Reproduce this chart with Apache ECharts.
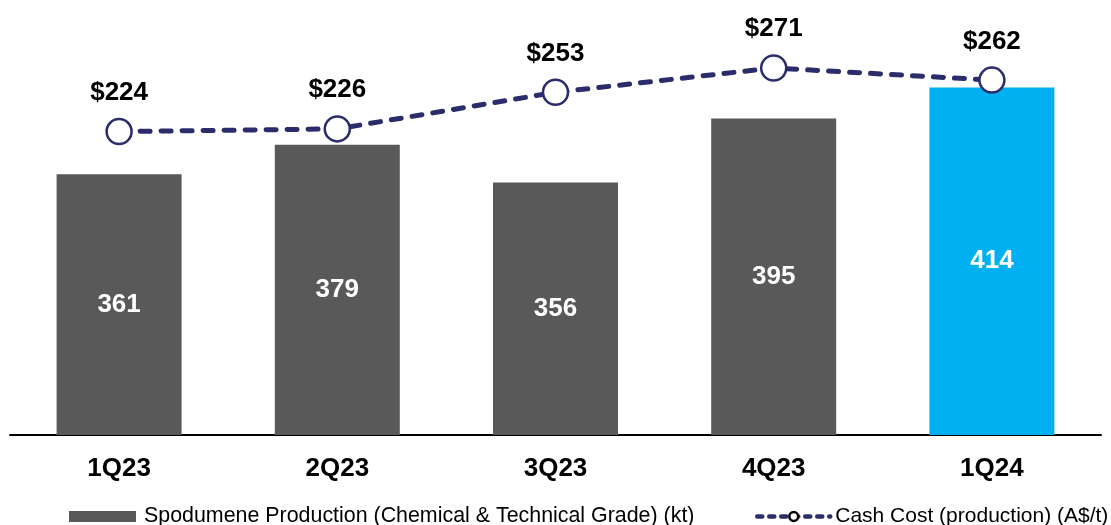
<!DOCTYPE html>
<html>
<head>
<meta charset="utf-8">
<script src="https://cdn.jsdelivr.net/npm/echarts@6/dist/echarts.min.js"></script>
<style>
html,body{margin:0;padding:0;background:#fff;}
#chart{width:1111px;height:525px;}
</style>
</head>
<body>
<div id="chart"></div>
<script>
const categories = ['1Q23', '2Q23', '3Q23', '4Q23', '1Q24'];
const production = [361, 379, 356, 395, 414];
const cashCost = [224, 226, 253, 271, 262];
const productionName = 'Spodumene Production (Chemical & Technical Grade) (kt)';
const cashCostName = 'Cash Cost (production) (A$/t)';
const highlightCategory = '1Q24';

const FONT = '"Liberation Sans", Arial, sans-serif';
const NAVY = '#2B2D6B';
const chart = echarts.init(document.getElementById('chart'));

const barData = production.map((v, i) => ({
  value: v,
  itemStyle: { color: categories[i] === highlightCategory ? '#00B0F0' : '#595959' }
}));

chart.setOption({
  animation: false,
  textStyle: { fontFamily: FONT },
  grid: { left: 10, right: 10, top: 30, bottom: 90, containLabel: false },
  legend: [
    {
      data: [{ name: productionName, icon: 'rect', itemStyle: { color: '#595959' } }],
      left: 69, top: 506, padding: 0,
      itemWidth: 67, itemHeight: 11,
      textStyle: { fontFamily: FONT, fontSize: 21.4, color: '#000', padding: [0, 0, 0, 3] }
    },
    {
      data: [cashCostName],
      left: 755, top: 506, padding: 0,
      itemWidth: 73, itemHeight: 11,
      lineStyle: { width: 4.5, type: [5, 7], cap: 'round', color: NAVY },
      itemStyle: { borderWidth: 2.5, borderColor: '#000', color: '#fff' },
      textStyle: { fontFamily: FONT, fontSize: 21, color: '#000' }
    }
  ],
  xAxis: {
    type: 'category',
    data: categories,
    axisLine: { lineStyle: { color: '#000', width: 2 } },
    axisTick: { show: false },
    axisLabel: { fontFamily: FONT, fontSize: 26, fontWeight: 'bold', color: '#000', margin: 21 }
  },
  yAxis: [
    { type: 'value', min: 202, max: 449, show: false, splitLine: { show: false } },
    { type: 'value', min: 0, max: 299, show: false, splitLine: { show: false } }
  ],
  series: [
    {
      name: productionName,
      type: 'bar',
      yAxisIndex: 0,
      barWidth: 125,
      data: barData,
      label: {
        show: true, position: 'inside',
        fontFamily: FONT, fontSize: 26, fontWeight: 'bold', color: '#fff'
      }
    },
    {
      name: cashCostName,
      type: 'line',
      yAxisIndex: 1,
      data: cashCost,
      symbol: 'circle',
      symbolSize: 25,
      z: 5,
      itemStyle: { color: '#fff', borderColor: NAVY, borderWidth: 2.5 },
      lineStyle: { color: NAVY, width: 5, type: [10, 11], cap: 'round' },
      label: {
        show: true, position: 'top', distance: 12,
        formatter: p => '$' + p.value,
        fontFamily: FONT, fontSize: 26, fontWeight: 'bold', color: '#000'
      }
    }
  ]
});
</script>
</body>
</html>
